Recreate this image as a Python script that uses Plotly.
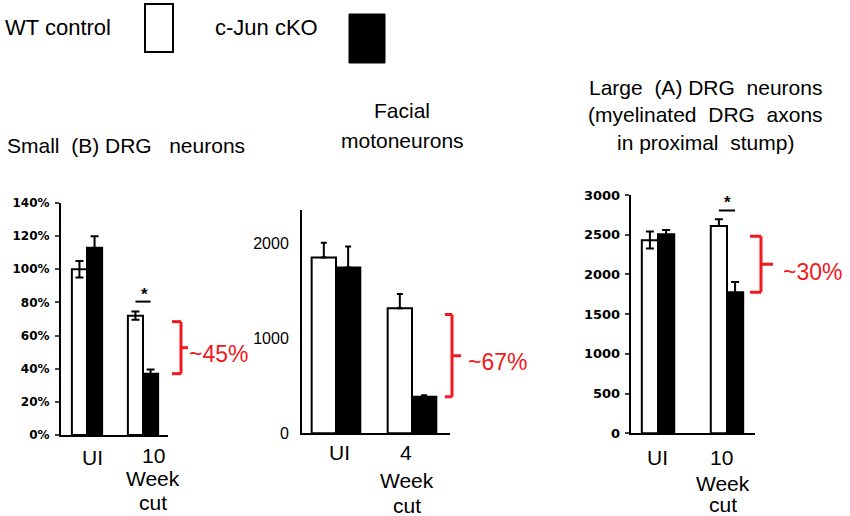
import plotly.graph_objects as go

W, H = 850, 516

# ---------------- data ----------------
groups_p1 = ["UI", "10"]
wt_p1 = [100, 72]
ko_p1 = [113, 37]
wt_p1_err = [5, 2.5]
ko_p1_err = [7, 2.5]
ticks_p1 = [0, 20, 40, 60, 80, 100, 120, 140]

groups_p2 = ["UI", "4"]
wt_p2 = [1850, 1315]
ko_p2 = [1745, 385]
wt_p2_err = [155, 150]
ko_p2_err = [220, 15]
ticks_p2 = [0, 1000, 2000]

groups_p3 = ["UI", "10"]
wt_p3 = [2430, 2610]
ko_p3 = [2505, 1775]
wt_p3_err_plus = [110, 85]
wt_p3_err_minus = [105, 0]
ko_p3_err = [55, 130]
ticks_p3 = [0, 500, 1000, 1500, 2000, 2500, 3000]

reductions = ["~45%", "~67%", "~30%"]
titles = [["Small  (B) DRG   neurons"],
          ["Facial", "motoneurons"],
          ["Large  (A) DRG  neurons", "(myelinated  DRG  axons", "in proximal  stump)"]]
legend_names = ["WT control", "c-Jun cKO"]
sub_label = ["Week", "cut"]

FONT = "Liberation Sans, Arial, sans-serif"
TICKFONT_BOLD = "DejaVu Sans, sans-serif"
RED = "#f0191e"


def px(x):
    return x / W


def py(y):
    return 1 - y / H


fig = go.Figure()

panels = [
    dict(xa="x", ya="y", groups=groups_p1, wt=wt_p1, ko=ko_p1,
         wt_ep=wt_p1_err, wt_em=wt_p1_err, ko_ep=ko_p1_err, ko_em=ko_p1_err,
         bw=0.27, cap=4),
    dict(xa="x2", ya="y2", groups=groups_p2, wt=wt_p2, ko=ko_p2,
         wt_ep=wt_p2_err, wt_em=[0, 0], ko_ep=ko_p2_err, ko_em=[0, 0],
         bw=0.32, cap=3),
    dict(xa="x3", ya="y3", groups=groups_p3, wt=wt_p3, ko=ko_p3,
         wt_ep=wt_p3_err_plus, wt_em=wt_p3_err_minus, ko_ep=ko_p3_err, ko_em=ko_p3_err,
         bw=0.235, cap=4),
]

for i, p in enumerate(panels):
    fig.add_trace(go.Bar(
        x=p["groups"], y=p["wt"], xaxis=p["xa"], yaxis=p["ya"],
        width=p["bw"], offset=-p["bw"],
        marker=dict(color="white", line=dict(color="black", width=2)),
        error_y=dict(type="data", array=p["wt_ep"], arrayminus=p["wt_em"],
                     symmetric=False, color="black", thickness=2, width=p["cap"]),
        name=legend_names[0], showlegend=False))
    fig.add_trace(go.Bar(
        x=p["groups"], y=p["ko"], xaxis=p["xa"], yaxis=p["ya"],
        width=p["bw"], offset=0,
        marker=dict(color="black", line=dict(color="black", width=2)),
        error_y=dict(type="data", array=p["ko_ep"], arrayminus=p["ko_em"],
                     symmetric=False, color="black", thickness=2, width=p["cap"]),
        name=legend_names[1], showlegend=False))

xcommon = dict(type="category", showticklabels=False, showline=True, linecolor="black",
               linewidth=2, ticks="", showgrid=False, zeroline=False, fixedrange=True)
ycommon = dict(showline=True, linecolor="black", linewidth=2, showgrid=False,
               zeroline=False, fixedrange=True, tickmode="array")

fig.update_layout(
    width=W, height=H, autosize=False,
    margin=dict(l=0, r=0, t=0, b=0, autoexpand=False),
    paper_bgcolor="white", plot_bgcolor="white",
    font=dict(family=FONT, color="black"),
    showlegend=False,
    xaxis=dict(domain=[px(61), px(168)], anchor="y", range=[-0.464, 1.446], **xcommon),
    yaxis=dict(domain=[py(435), py(203)], anchor="x", range=[0, 140],
               tickvals=ticks_p1, ticktext=[f"{v}%" for v in ticks_p1],
               ticks="outside", ticklen=4, tickwidth=2, ticklabelstandoff=3,
               tickfont=dict(family=TICKFONT_BOLD, size=12, weight="bold"), **ycommon),
    xaxis2=dict(domain=[px(302), px(450)], anchor="y2", range=[-0.447, 1.5], **xcommon),
    yaxis2=dict(domain=[py(433.3), py(210)], anchor="x2", range=[0, 2350],
                tickvals=ticks_p2, ticktext=[str(v) for v in ticks_p2],
                ticks="", ticklabelstandoff=8,
                tickfont=dict(family=FONT, size=16), **ycommon),
    xaxis3=dict(domain=[px(630.7), px(755)], anchor="y3", range=[-0.396, 1.406], **xcommon),
    yaxis3=dict(domain=[py(433.3), py(195)], anchor="x3", range=[0, 3000],
                tickvals=ticks_p3, ticktext=[str(v) for v in ticks_p3],
                ticks="outside", ticklen=4, tickwidth=2, ticklabelstandoff=2,
                tickfont=dict(family=TICKFONT_BOLD, size=13, weight="bold"), **ycommon),
)

shapes = []
annots = []

# ---- category labels (annotation per line; x given as category index) ----
cat_labels = [
    ("x", groups_p1, [(6, 457), (10, 455)], (10, [478, 502])),
    ("x2", groups_p2, [(4, 452), (-6, 452)], (-5, [480, 505])),
    ("x3", groups_p3, [(-1, 457), (-5, 457)], (-4, [483, 504])),
]
for xa, groups, firsts, sub in cat_labels:
    for idx, (cat, (xs, yy)) in enumerate(zip(groups, firsts)):
        annots.append(dict(x=idx, xref=xa, y=py(yy), yref="paper", xshift=xs,
                           text=cat, showarrow=False, font=dict(size=21, family=FONT),
                           xanchor="center", yanchor="middle"))
    xs, ys = sub
    for txt, yy in zip(sub_label, ys):
        annots.append(dict(x=1, xref=xa, y=py(yy), yref="paper", xshift=xs,
                           text=txt, showarrow=False, font=dict(size=21, family=FONT),
                           xanchor="center", yanchor="middle"))

# ---- significance asterisks (panel 1 and 3) ----
for p, idx, ypad in [(panels[0], 1, 6), (panels[2], 1, 110)]:
    top = max(p["wt"][idx] + p["wt_ep"][idx], p["ko"][idx] + p["ko_ep"][idx])
    yline = top + ypad
    shapes.append(dict(type="line", xref=p["xa"], yref=p["ya"],
                       x0=idx - p["bw"] / 2, x1=idx + p["bw"] / 2, y0=yline, y1=yline,
                       line=dict(color="black", width=2)))
    annots.append(dict(x=idx, xref=p["xa"], y=yline, yref=p["ya"],
                       xshift=1, yshift=-4, text="*", showarrow=False,
                       font=dict(size=17, family=FONT, weight="bold"),
                       xanchor="center", yanchor="bottom"))

# ---- red brackets ----
brackets = [(panels[0], 172, 181, 188, 189, -6),
            (panels[1], 445, 452, 461, 468, -6),
            (panels[2], 750, 761, 773, 783, -8)]
for (p, xl, xv, xm, xt, ys), lab in zip(brackets, reductions):
    ytop = 0.95 * p["wt"][1]
    ybot = p["ko"][1]
    ymid = (ytop + ybot) / 2
    lw = 3
    for x0, x1, y0, y1 in [(xl, xv, ytop, ytop), (xv, xv, ytop, ybot),
                           (xl, xv, ybot, ybot), (xv, xm, ymid, ymid)]:
        shapes.append(dict(type="line", xref="paper", yref=p["ya"],
                           x0=px(x0), x1=px(x1), y0=y0, y1=y1,
                           line=dict(color=RED, width=lw)))
    annots.append(dict(x=px(xt), xref="paper", y=ymid, yref=p["ya"], yshift=ys,
                       xshift=-2, text=lab, showarrow=False, xanchor="left",
                       yanchor="middle", font=dict(size=23, family=FONT, color=RED)))

# ---- panel titles ----
title_pos = [
    (5, "left", [145]),
    (402, "center", [111, 140]),
    (705, "center", [88, 115, 142]),
]
for lines, (tx, anc, ys) in zip(titles, title_pos):
    for txt, yy in zip(lines, ys):
        annots.append(dict(x=px(tx), xref="paper", y=py(yy), yref="paper",
                           text=txt, showarrow=False, xanchor=anc, yanchor="middle",
                           font=dict(size=21, family=FONT)))

# ---- legend ----
annots.append(dict(x=px(3), xref="paper", y=py(28), yref="paper", text=legend_names[0],
                   showarrow=False, xanchor="left", yanchor="middle",
                   font=dict(size=22, family=FONT)))
annots.append(dict(x=px(213), xref="paper", y=py(28), yref="paper", text=legend_names[1],
                   showarrow=False, xanchor="left", yanchor="middle",
                   font=dict(size=22, family=FONT)))
shapes.append(dict(type="rect", xref="paper", yref="paper",
                   x0=px(145), x1=px(173), y0=py(52), y1=py(4),
                   fillcolor="white", line=dict(color="black", width=2)))
shapes.append(dict(type="rect", xref="paper", yref="paper",
                   x0=px(349), x1=px(385), y0=py(63), y1=py(14),
                   fillcolor="black", line=dict(color="black", width=1)))

fig.update_layout(shapes=shapes, annotations=annots)
fig.write_html("out.html",
               config={"displayModeBar": False, "staticPlot": True},
               post_script="document.body.style.margin='0';document.body.style.overflow='hidden';")
